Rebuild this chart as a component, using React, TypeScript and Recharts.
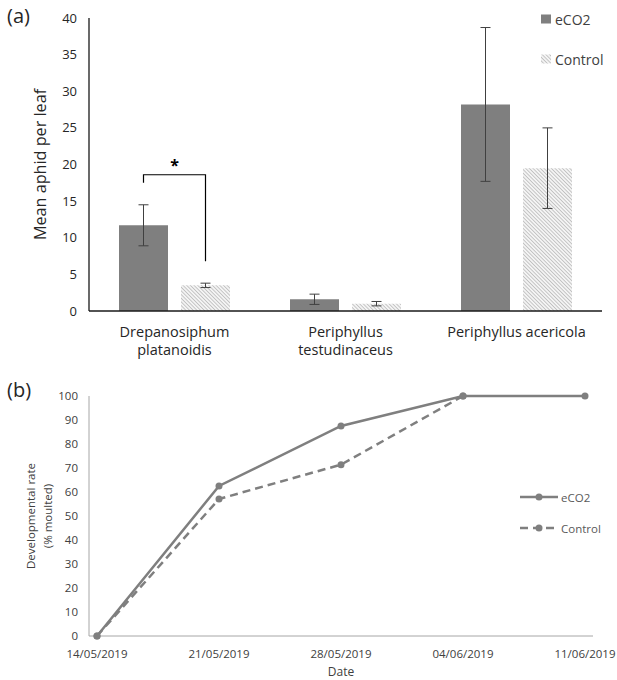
import React from "react";
import {
  Bar,
  BarChart,
  ErrorBar,
  LabelList,
  Line,
  LineChart,
  XAxis,
  YAxis,
} from "recharts";

// (a) aphid counts
const categories = ["Drepanosiphum platanoidis", "Periphyllus testudinaceus", "Periphyllus acericola"];
const categoryLines = [["Drepanosiphum", "platanoidis"], ["Periphyllus", "testudinaceus"], ["Periphyllus acericola"]];
const eco2Means = [11.7, 1.6, 28.2];
const eco2Errors = [2.8, 0.7, 10.5];
const controlMeans = [3.5, 1.0, 19.5];
const controlErrors = [0.3, 0.3, 5.5];
const aphidTicks = [0, 5, 10, 15, 20, 25, 30, 35, 40];
// significance bracket over Drepanosiphum: top, left foot, right foot
const sigBracket = [18.6, 17.5, 6.8];

// (b) moulting
const dates = ["14/05/2019", "21/05/2019", "28/05/2019", "04/06/2019", "11/06/2019"];
const eco2Moulted = [0, 62.5, 87.5, 100, 100];
const controlMoulted: (number | null)[] = [0, 57.1, 71.4, 100, null];
const rateTicks = [0, 10, 20, 30, 40, 50, 60, 70, 80, 90, 100];

const aphidData = categories.map((c, i) => ({
  name: c,
  eco2: eco2Means[i],
  eco2Err: eco2Errors[i],
  control: controlMeans[i],
  controlErr: controlErrors[i],
}));

const rateData = dates.map((d, i) => ({
  date: d,
  eco2: eco2Moulted[i],
  control: controlMoulted[i],
}));

const FONT = "'Open Sans', sans-serif";
const BAR_GREY = "#7f7f7f";
const BAR_SIZE = 49;
const BAR_GAP = 13;

function Hatch({ id }: { id: string }) {
  return (
    <pattern id={id} patternUnits="userSpaceOnUse" width="2.6" height="2.6" patternTransform="rotate(-45)">
      <rect width="2.6" height="2.6" fill="#f4f4f4" />
      <line x1="0" y1="0" x2="0" y2="2.6" stroke="#9a9a9a" strokeWidth="1" />
    </pattern>
  );
}

function CategoryTick(props: any) {
  const { x, y, payload } = props;
  const lines = categoryLines[categories.indexOf(payload.value)] || [payload.value];
  return (
    <text x={x} y={y} textAnchor="middle" fontSize={14.5} fill="#262626" fontFamily={FONT}>
      {lines.map((l, i) => (
        <tspan key={i} x={x} dy={i === 0 ? 26 : 18}>
          {l}
        </tspan>
      ))}
    </text>
  );
}

function renderBracket(props: any) {
  const { x, y, width, height, value, index } = props;
  if (index !== 0 || !value) return null;
  const k = height / value;
  const base = y + height;
  const yOf = (v: number) => base - v * k;
  const x1 = x + width / 2;
  const x2 = x + width + BAR_GAP + width / 2;
  const [top, leftFoot, rightFoot] = sigBracket;
  return (
    <g>
      <path
        d={`M${x1},${yOf(leftFoot)} L${x1},${yOf(top)} L${x2},${yOf(top)} L${x2},${yOf(rightFoot)}`}
        fill="none"
        stroke="#000"
        strokeWidth={1.2}
      />
      <text x={(x1 + x2) / 2} y={yOf(top) - 4} textAnchor="middle" fontSize={16} fontWeight={700} fill="#000" fontFamily={FONT}>
        *
      </text>
    </g>
  );
}

function DateTick(props: any) {
  const { x, y, payload } = props;
  return (
    <text x={x} y={y + 20} textAnchor="middle" fontSize={11.5} fill="#404040" fontFamily={FONT}>
      {payload.value}
    </text>
  );
}

function AphidLegend() {
  return (
    <div style={{ position: "absolute", left: 541, top: 10, fontFamily: FONT, fontSize: 14, color: "#404040" }}>
      <div style={{ display: "flex", alignItems: "center", height: 18 }}>
        <svg width={11} height={10} style={{ marginRight: 3 }}>
          <rect width={10} height={9} y={0.5} fill={BAR_GREY} />
        </svg>
        eCO2
      </div>
      <div style={{ display: "flex", alignItems: "center", height: 18, marginTop: 22 }}>
        <svg width={11} height={10} style={{ marginRight: 3 }}>
          <defs>
            <Hatch id="hatchLegend" />
          </defs>
          <rect width={10} height={9} y={0.5} fill="url(#hatchLegend)" />
        </svg>
        Control
      </div>
    </div>
  );
}

function RateLegend() {
  const item = (label: string, dash: string | undefined) => (
    <div style={{ display: "flex", alignItems: "center", height: 16 }}>
      <svg width={39} height={10} style={{ marginRight: 2 }}>
        <line x1={0} y1={5} x2={38} y2={5} stroke={BAR_GREY} strokeWidth={2.5} strokeDasharray={dash} />
        <circle cx={19} cy={5} r={3.5} fill={BAR_GREY} />
      </svg>
      {label}
    </div>
  );
  return (
    <div style={{ position: "absolute", left: 520, top: 489, fontFamily: FONT, fontSize: 11.5, color: "#595959" }}>
      {item("eCO2", undefined)}
      <div style={{ height: 15 }} />
      {item("Control", "8 5")}
    </div>
  );
}

export default function App() {
  return (
    <div style={{ position: "absolute", left: 0, top: 0, width: 617, height: 680, background: "#fff", fontFamily: FONT }}>
      <div style={{ position: "absolute", left: 7, top: 2, fontSize: 20, color: "#262626" }}>(a)</div>
      <div style={{ position: "absolute", left: 7, top: 376, fontSize: 20, color: "#262626" }}>(b)</div>

      <div style={{ position: "absolute", left: 0, top: 0 }}>
        <BarChart
          width={617}
          height={360}
          data={aphidData}
          margin={{ top: 18, right: 15, bottom: 0, left: 0 }}
          barSize={BAR_SIZE}
          barGap={BAR_GAP}
        >
          <defs>
            <Hatch id="hatchBar" />
          </defs>
          <XAxis
            dataKey="name"
            height={49}
            tickLine={false}
            tickSize={0}
            tickMargin={0}
            axisLine={{ stroke: "#1a1a1a", strokeWidth: 1.3 }}
            tick={<CategoryTick />}
            interval={0}
          />
          <YAxis
            width={89}
            domain={[0, 40]}
            ticks={aphidTicks}
            tickLine={false}
            tickSize={0}
            tickMargin={12}
            axisLine={{ stroke: "#1a1a1a", strokeWidth: 1.3 }}
            tick={{ fontSize: 13, fill: "#262626", fontFamily: FONT }}
            label={{
              value: "Mean aphid per leaf",
              angle: -90,
              position: "insideLeft",
              offset: 40,
              style: { fontSize: 16.2, fill: "#262626", fontFamily: FONT, textAnchor: "middle" },
            }}
          />
          <Bar dataKey="eco2" fill={BAR_GREY} isAnimationActive={false}>
            <ErrorBar dataKey="eco2Err" width={5} stroke="#404040" strokeWidth={1} isAnimationActive={false} />
            <LabelList dataKey="eco2" content={renderBracket} />
          </Bar>
          <Bar dataKey="control" fill="url(#hatchBar)" isAnimationActive={false}>
            <ErrorBar dataKey="controlErr" width={5} stroke="#404040" strokeWidth={1} isAnimationActive={false} />
          </Bar>
        </BarChart>
      </div>
      <AphidLegend />

      <div style={{ position: "absolute", left: 0, top: 360 }}>
        <LineChart
          width={617}
          height={320}
          data={rateData}
          margin={{ top: 36, right: 24, bottom: 0, left: 0 }}
        >
          <XAxis
            dataKey="date"
            height={44}
            padding={{ left: 8, right: 8 }}
            tickLine={false}
            tickSize={0}
            axisLine={{ stroke: "#a6a6a6", strokeWidth: 1 }}
            tick={<DateTick />}
            interval={0}
            label={{
              value: "Date",
              position: "insideBottom",
              offset: 4,
              style: { fontSize: 12, fill: "#404040", fontFamily: FONT },
            }}
          />
          <YAxis
            width={89}
            domain={[0, 100]}
            ticks={rateTicks}
            tickLine={false}
            tickSize={0}
            tickMargin={11}
            axisLine={{ stroke: "#a6a6a6", strokeWidth: 1 }}
            tick={{ fontSize: 11.5, fill: "#404040", fontFamily: FONT }}
            label={(props: any) => {
              const vb = props.viewBox || { x: 0, y: 36, width: 89, height: 240 };
              const cy = vb.y + vb.height / 2;
              return (
                <g>
                  <text x={30} y={cy} transform={`rotate(-90, 30, ${cy})`} textAnchor="middle" dominantBaseline="central" fontSize={11.5} fill="#404040" fontFamily={FONT}>
                    Developmental rate
                  </text>
                  <text x={47} y={cy} transform={`rotate(-90, 47, ${cy})`} textAnchor="middle" dominantBaseline="central" fontSize={11.5} fill="#404040" fontFamily={FONT}>
                    (% moulted)
                  </text>
                </g>
              );
            }}
          />
          <Line
            type="linear"
            dataKey="eco2"
            stroke={BAR_GREY}
            strokeWidth={2.5}
            dot={{ r: 3.5, fill: BAR_GREY, stroke: "none" }}
            activeDot={false}
            isAnimationActive={false}
          />
          <Line
            type="linear"
            dataKey="control"
            stroke={BAR_GREY}
            strokeWidth={2.5}
            strokeDasharray="8 5"
            dot={{ r: 3.5, fill: BAR_GREY, stroke: "none", strokeDasharray: "" }}
            activeDot={false}
            isAnimationActive={false}
          />
        </LineChart>
      </div>
      <RateLegend />
    </div>
  );
}
